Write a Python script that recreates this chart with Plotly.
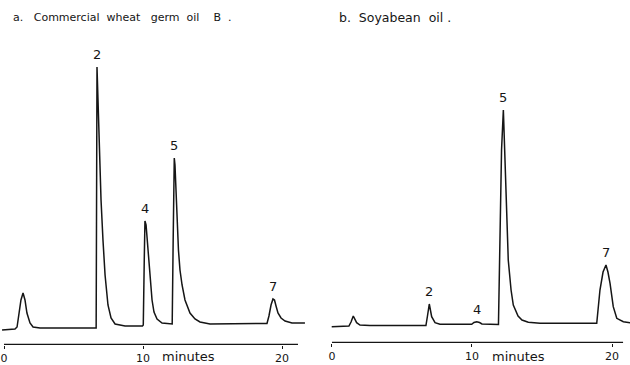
import plotly.graph_objects as go

# ---------------- data ----------------
# Panel a: Commercial wheat germ oil B.  (time in minutes, detector signal in arbitrary units)
time_a = [-0.14, 0.79, 0.94, 1.08, 1.22, 1.37, 1.51, 1.65, 1.87, 2.09, 2.59, 4.03, 6.63,
          6.69, 6.76, 6.87, 6.98, 7.12, 7.27, 7.48, 7.70, 7.99, 8.71, 9.96,
          10.02, 10.09, 10.14, 10.22, 10.36, 10.50, 10.65, 10.79, 11.01, 11.37, 11.94,
          12.10, 12.17, 12.25, 12.30, 12.37, 12.45, 12.55, 12.66, 12.81, 13.02, 13.38,
          13.74, 14.10, 14.82, 18.42,
          18.92, 19.06, 19.21, 19.35, 19.46, 19.57, 19.71, 19.93, 20.22, 20.72, 21.65]
signal_a = [0, 1, 3, 18, 30, 37, 30, 17, 7, 3, 2, 2, 2,
            263, 230, 180, 130, 90, 55, 25, 12, 6, 4, 4,
            5, 70, 109, 105, 80, 50, 30, 18, 11, 7, 6,
            6, 90, 172, 165, 140, 110, 80, 60, 45, 30, 17,
            11, 8, 6, 6,
            6.5, 14, 25, 31, 30, 24, 17, 12, 9, 7, 7]

# Panel b: Soyabean oil.
time_b = [-0.02, 1.21, 1.36, 1.52, 1.76, 2.00, 2.71, 6.71,
          6.82, 6.95, 7.12, 7.36, 7.71, 9.98,
          10.14, 10.34, 10.54, 10.71, 11.89,
          12.00, 12.11, 12.24, 12.32, 12.43, 12.59, 12.79, 12.95, 13.29, 13.57, 14.02,
          14.86, 18.91,
          19.14, 19.36, 19.57, 19.71, 19.86, 20.09, 20.34, 20.81, 21.29]
signal_b = [3.3, 4, 8, 14, 7.3, 5, 4.5, 4.5,
            14, 26, 13.3, 7.3, 5.7, 5.7,
            7.5, 8.3, 7.5, 6, 5.5,
            80, 180, 220, 190, 137, 70, 40, 25, 14, 10, 7.7,
            6.7, 6.7,
            40, 58, 65, 58, 46.7, 23.3, 11.7, 8.3, 7.3]

peak_labels_a = ["2", "4", "5", "7"]
peak_times_a = [6.69, 10.14, 12.25, 19.35]
peak_labels_b = ["2", "4", "5", "7"]
peak_times_b = [6.95, 10.34, 12.24, 19.57]

tick_vals = [0, 10, 20]
tick_text = ["0", "10", "20"]
axis_end_a = 21.15
axis_end_b = 20.79
NB = "\u00a0"
title_a = ("a." + NB * 3 + "Commercial" + NB * 2 + "wheat" + NB * 3 + "germ" + NB * 2 + "oil"
           + NB * 4 + "B" + NB * 2 + ".")
title_b = "b." + NB * 2 + "Soyabean" + NB * 2 + "oil" + NB + "."
axis_label = "minutes"

# ---------------- figure ----------------
W, H = 630, 365
INK = "#151515"
FONT = "DejaVu Sans"

fig = go.Figure()

fig.add_trace(go.Scatter(x=time_a, y=signal_a, mode="lines", xaxis="x", yaxis="y",
                         line=dict(color=INK, width=1.5), hoverinfo="skip"))
fig.add_trace(go.Scatter(x=[0, axis_end_a], y=[-14.5, -14.5], mode="lines", xaxis="x", yaxis="y",
                         line=dict(color=INK, width=1.3), hoverinfo="skip"))
fig.add_trace(go.Scatter(x=time_b, y=signal_b, mode="lines", xaxis="x2", yaxis="y2",
                         line=dict(color=INK, width=1.5), hoverinfo="skip"))
fig.add_trace(go.Scatter(x=[0, axis_end_b], y=[-12.5, -12.5], mode="lines", xaxis="x2", yaxis="y2",
                         line=dict(color=INK, width=1.3), hoverinfo="skip"))

xcommon = dict(tickmode="array", tickvals=tick_vals, ticktext=tick_text, ticks="outside",
               ticklen=3, tickwidth=1.2, tickcolor=INK, showgrid=False, zeroline=False,
               showline=False, automargin=False, fixedrange=True,
               tickfont=dict(family=FONT, size=11, color=INK))
ycommon = dict(visible=False, showgrid=False, zeroline=False, fixedrange=True)

fig.update_layout(
    width=W, height=H, margin=dict(l=0, r=0, t=0, b=0),
    paper_bgcolor="white", plot_bgcolor="white", showlegend=False,
    xaxis=dict(domain=[0, 308 / W], range=[-0.288, 21.87], anchor="y", **xcommon),
    yaxis=dict(domain=[20 / H, 1], range=[-15, 330], anchor="x", **ycommon),
    xaxis2=dict(domain=[331 / W, 1], range=[-0.071, 21.286], anchor="y2", **xcommon),
    yaxis2=dict(domain=[22 / H, 1], range=[-13, 330], anchor="x2", **ycommon),
)

ann = []
ann.append(dict(text=title_a, xref="paper", yref="paper", x=11 / W, y=1 - 17 / H,
                xanchor="left", yanchor="middle", showarrow=False,
                font=dict(family=FONT, size=11, color=INK)))
ann.append(dict(text=title_b, xref="paper", yref="paper", x=337 / W, y=1 - 17 / H,
                xanchor="left", yanchor="middle", showarrow=False,
                font=dict(family=FONT, size=12.5, color=INK)))
ann.append(dict(text=axis_label, xref="x", yref="paper", x=13.3, y=1 - 356 / H,
                xanchor="center", yanchor="middle", showarrow=False,
                font=dict(family=FONT, size=13, color=INK)))
ann.append(dict(text=axis_label, xref="x2", yref="paper", x=13.3, y=1 - 356 / H,
                xanchor="center", yanchor="middle", showarrow=False,
                font=dict(family=FONT, size=13, color=INK)))


def apex(times, sig, t0):
    return max(s for t, s in zip(times, sig) if abs(t - t0) <= 0.3)


for lab, t0 in zip(peak_labels_a, peak_times_a):
    ann.append(dict(text=lab, xref="x", yref="y", x=t0, y=apex(time_a, signal_a, t0),
                    xanchor="center", yanchor="bottom", yshift=3, showarrow=False,
                    font=dict(family=FONT, size=13, color=INK)))
for lab, t0 in zip(peak_labels_b, peak_times_b):
    ann.append(dict(text=lab, xref="x2", yref="y2", x=t0, y=apex(time_b, signal_b, t0),
                    xanchor="center", yanchor="bottom", yshift=3, showarrow=False,
                    font=dict(family=FONT, size=13, color=INK)))

fig.update_layout(annotations=ann)
fig.write_html("out.html")
